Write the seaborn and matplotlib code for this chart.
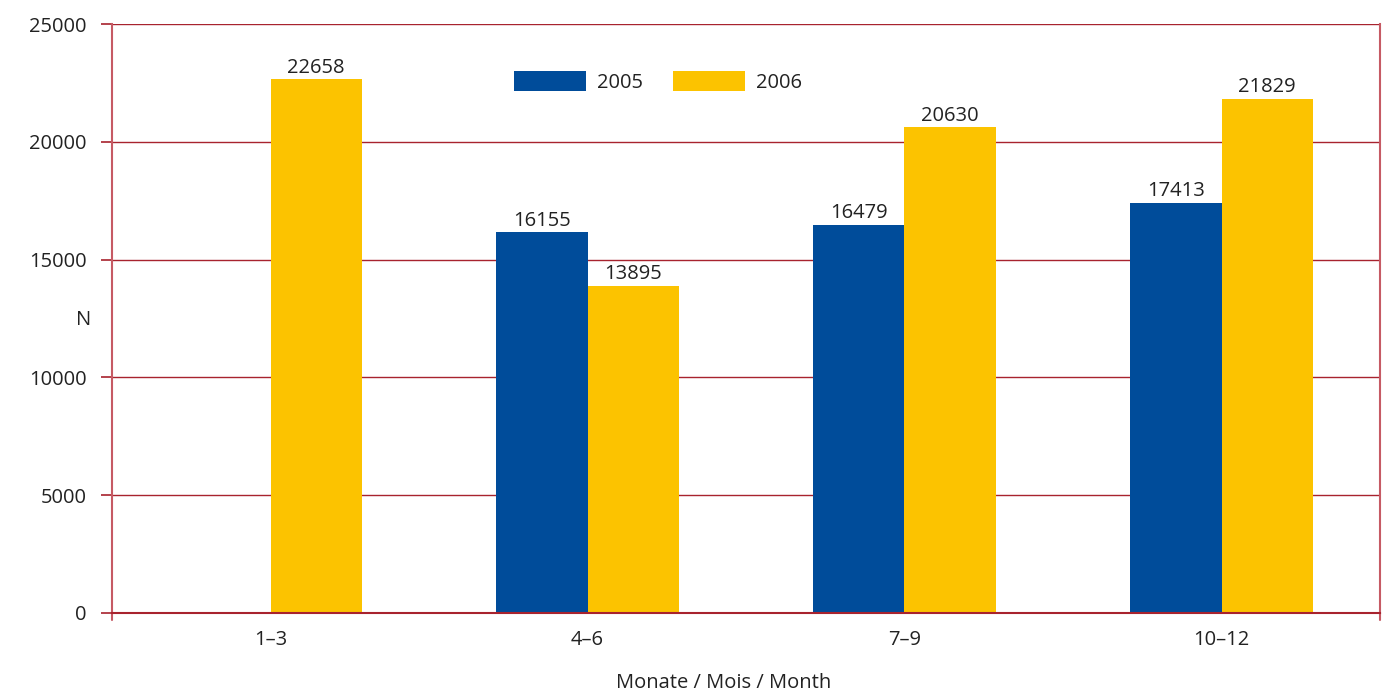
import numpy as np
import pandas as pd
import matplotlib
matplotlib.use("Agg")
import matplotlib.pyplot as plt
import seaborn as sns

quarters = ["1–3", "4–6", "7–9", "10–12"]
years = ["2005", "2006"]
values_2005 = [np.nan, 16155, 16479, 17413]
values_2006 = [22658, 13895, 20630, 21829]
y_ticks = [0, 5000, 10000, 15000, 20000, 25000]

df = pd.DataFrame({
    "quarter": quarters * 2,
    "year": [years[0]] * 4 + [years[1]] * 4,
    "n": values_2005 + values_2006,
})

sns.set_style("white")
plt.rcParams["font.family"] = ["Open Sans", "DejaVu Sans"]

blue = "#004C9A"
yellow = "#FCC300"
grid_red = "#A8232E"
spine_red = "#C65A64"
text_col = "#222222"
fs = 14.5

fig = plt.figure(figsize=(13.92, 6.93), dpi=100)
ax = fig.add_axes([112 / 1392, 1 - 613 / 693, (1380 - 112) / 1392, (613 - 24) / 693])

sns.barplot(data=df, x="quarter", y="n", hue="year", order=quarters,
            hue_order=years, palette=[blue, yellow], width=0.575, gap=0,
            saturation=1, linewidth=0, ax=ax, legend=True)

ax.set_xlim(-0.5, 3.5)
ax.set_ylim(0, 25000)
ax.set_yticks(y_ticks)
ax.set_yticklabels([str(t) for t in y_ticks])
ax.yaxis.grid(True, color=grid_red, linewidth=1.0)
ax.set_axisbelow(True)

for side in ["left", "right"]:
    ax.spines[side].set_color(spine_red)
    ax.spines[side].set_linewidth(1.5)
ax.spines["top"].set_visible(False)
ax.spines["bottom"].set_color(grid_red)
ax.spines["bottom"].set_linewidth(1.5)

# short stubs of the side lines below the baseline
for xa in (0, 1):
    ax.plot([xa, xa], [0, -0.012], transform=ax.transAxes, color=spine_red,
            linewidth=1.5, clip_on=False)

ax.tick_params(axis="y", length=8, width=1.2, color=grid_red, pad=10,
               labelsize=fs, labelcolor=text_col, left=True)
ax.tick_params(axis="x", length=0, pad=12, labelsize=fs, labelcolor=text_col)

for cont in ax.containers:
    labels = ["" if np.isnan(v) else f"{int(v)}" for v in cont.datavalues]
    ax.bar_label(cont, labels=labels, padding=1, fontsize=fs, color=text_col)

ax.set_xlabel("Monate / Mois / Month", fontsize=fs, color=text_col, va="center")
ax.xaxis.set_label_coords((724 - 112) / 1268, (613 - 683) / 589)
ax.set_ylabel("N", fontsize=fs, color=text_col, rotation=0, va="center", ha="center")
ax.yaxis.set_label_coords((84 - 112) / 1268, (613 - 320) / 589)

leg = ax.legend(loc="center", bbox_to_anchor=((658 - 112) / 1268, (613 - 82) / 589),
                ncol=2, frameon=False, fontsize=fs, handlelength=3.6,
                handleheight=1.15, columnspacing=1.45, handletextpad=0.55)
for t in leg.get_texts():
    t.set_color(text_col)

fig.savefig("out.png", dpi=100)
